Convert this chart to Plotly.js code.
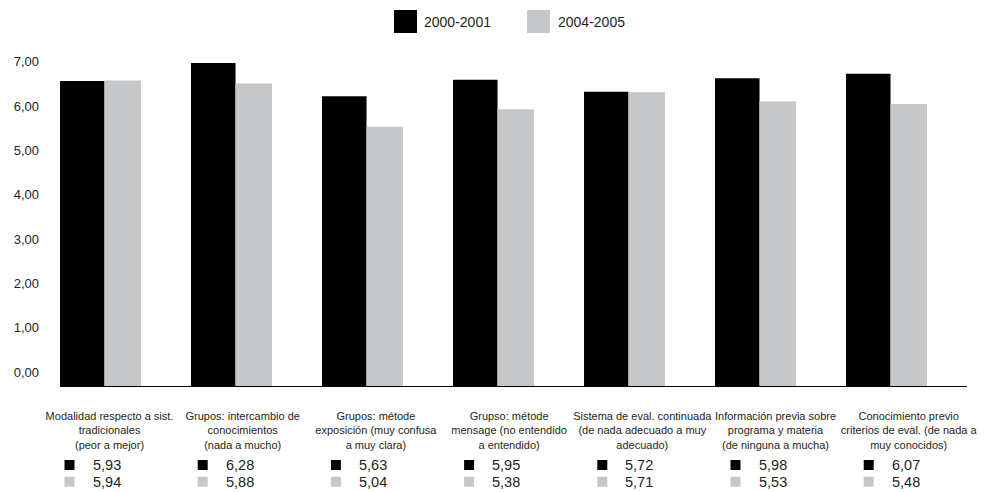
<!DOCTYPE html>
<html><head><meta charset="utf-8">
<script src="https://cdn.plot.ly/plotly-3.0.1.min.js"></script>
<style>body{margin:0;background:#fff}</style></head>
<body><div id="chart" style="width:985px;height:492px"></div>
<script>
const categories = [
  'Modalidad respecto a sist.<br>tradicionales<br>(peor a mejor)',
  'Grupos: intercambio de<br>conocimientos<br>(nada a mucho)',
  'Grupos: métode<br>exposición (muy confusa<br>a muy clara)',
  'Grupso: métode<br>mensage (no entendido<br>a entendido)',
  'Sistema de eval. continuada<br>(de nada adecuado a muy<br>adecuado)',
  'Información previa sobre<br>programa y materia<br>(de ninguna a mucha)',
  'Conocimiento previo<br>criterios de eval. (de nada a<br>muy conocidos)'
];
const seriesNames = ['2000-2001', '2004-2005'];
const values2000 = [5.93, 6.28, 5.63, 5.95, 5.72, 5.98, 6.07];
const values2004 = [5.94, 5.88, 5.04, 5.38, 5.71, 5.53, 5.48];
const yTickVals = [0, 1, 2, 3, 4, 5, 6, 7];
const yTickText = ['0,00', '1,00', '2,00', '3,00', '4,00', '5,00', '6,00', '7,00'];
const colors = ['#000000', '#c6c7c9'];

const FONT = '"Liberation Sans Narrow", "Arial Narrow", "Liberation Sans", Arial, sans-serif';
const TXT = '#231f20';
const W = 985, H = 492, ML = 60, MR = 18, MT = 40, MB = 106;
const PW = W - ML - MR, PH = H - MT - MB;
const px2x = p => (p - ML) / PW;
const py2y = p => (H - MB - p) / PH;
const fmt = v => v.toFixed(2).replace('.', ',');

const traces = [
  {type: 'bar', x: categories, y: values2000, name: seriesNames[0],
   marker: {color: colors[0], line: {width: 0}}, offset: -0.309, width: 0.3397,
   showlegend: false, hoverinfo: 'skip'},
  {type: 'bar', x: categories, y: values2004, name: seriesNames[1],
   marker: {color: colors[1], line: {width: 0}}, offset: 0.0305, width: 0.2786,
   showlegend: false, hoverinfo: 'skip'},
  {type: 'scatter', mode: 'markers', x: categories, y: categories.map(() => null),
   xaxis: 'x2', yaxis: 'y2', showlegend: false, hoverinfo: 'skip'}
];

const shapes = [];
const annotations = [];
const rows = [values2000, values2004];
const rowOffsets = [79, 95.7];
categories.forEach((c, k) => {
  rows.forEach((vals, r) => {
    shapes.push({type: 'rect', xref: 'x2', yref: 'paper', xsizemode: 'pixel', ysizemode: 'pixel',
      xanchor: k, yanchor: 0, x0: -45, x1: -35, y0: -rowOffsets[r] - 5, y1: -rowOffsets[r] + 5,
      fillcolor: colors[r], line: {width: 0}});
    annotations.push({xref: 'x2', yref: 'paper', x: k, y: 0, xanchor: 'left', yanchor: 'middle',
      xshift: -19, yshift: -rowOffsets[r], text: fmt(vals[k]), showarrow: false,
      font: {family: FONT, size: 14.5, color: TXT}});
  });
});
// legend
const legendX = [[394, 417, 424], [527, 550, 558]];
seriesNames.forEach((n, i) => {
  shapes.push({type: 'rect', xref: 'paper', yref: 'paper', x0: px2x(legendX[i][0]), x1: px2x(legendX[i][1]),
    y0: py2y(33), y1: py2y(10), fillcolor: colors[i], line: {width: 0}});
  annotations.push({xref: 'paper', yref: 'paper', x: px2x(legendX[i][2]) - 0.002, y: py2y(21.5),
    xanchor: 'left', yanchor: 'middle', text: n, showarrow: false,
    font: {family: FONT, size: 14, color: TXT}});
});

const layout = {
  width: W, height: H,
  margin: {l: ML, r: MR, t: MT, b: MB, pad: 0},
  paper_bgcolor: '#fff', plot_bgcolor: '#fff',
  barmode: 'overlay',
  font: {family: FONT, color: TXT},
  showlegend: false,
  xaxis: {type: 'category', range: [-0.30916, 6.6145], showticklabels: false, ticks: '',
    showgrid: false, zeroline: false, showline: true, linecolor: '#000', linewidth: 1},
  xaxis2: {type: 'category', overlaying: 'x', anchor: 'y', side: 'bottom', range: [-0.3716, 6.4377],
    showgrid: false, zeroline: false, showline: false, ticks: '', tickangle: 0, ticklabelstandoff: 22,
    tickfont: {family: FONT, size: 11, color: TXT}},
  yaxis: {range: [0, 6.725], showticklabels: false, showgrid: false, zeroline: false, ticks: ''},
  yaxis2: {overlaying: 'y', anchor: 'x', side: 'left', range: [-0.316, 7.494],
    tickvals: yTickVals, ticktext: yTickText, showgrid: false, zeroline: false, showline: false,
    ticks: '', ticklabelstandoff: 20, tickfont: {family: FONT, size: 13, color: TXT}},
  shapes: shapes,
  annotations: annotations
};
Plotly.newPlot('chart', traces, layout, {staticPlot: true, displayModeBar: false});
</script></body></html>
